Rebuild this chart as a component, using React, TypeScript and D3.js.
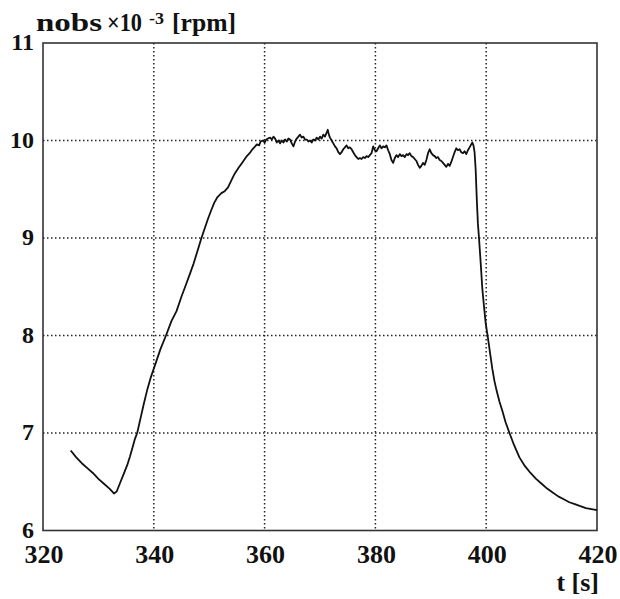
import React from "react";
import * as d3 from "d3";

const xTicks = [320, 340, 360, 380, 400, 420];
const yTicks = [6, 7, 8, 9, 10, 11];

const timeS = [
  325.0, 326.0, 327.0, 328.0, 329.0, 330.0, 331.0, 332.0, 332.8, 333.3, 334.0, 334.5, 335.2, 335.7, 336.2, 336.6,
  337.0, 337.6, 338.2, 338.8, 339.4, 340.0, 340.6, 341.2, 342.2, 343.2, 344.1, 345.0, 345.8, 346.5, 347.2, 347.9,
  348.6, 349.2, 349.8, 350.4, 350.9, 351.5, 352.2, 352.8, 353.4, 354.0, 354.6, 355.3, 355.8, 356.3, 356.8, 357.3,
  357.8, 358.3, 358.6, 359.0, 359.3, 359.7, 360.0, 360.3, 360.6, 361.0, 361.3, 361.6, 361.9, 362.2, 362.5, 362.8,
  363.1, 363.4, 363.7, 364.0, 364.3, 364.6, 364.9, 365.2, 365.5, 365.8, 366.1, 366.4, 366.7, 367.0, 367.3, 367.6,
  367.9, 368.2, 368.5, 368.8, 369.1, 369.4, 369.7, 370.0, 370.3, 370.6, 370.9, 371.2, 371.4, 371.6, 371.8, 372.1,
  372.4, 372.7, 373.0, 373.3, 373.6, 373.9, 374.2, 374.5, 374.8, 375.1, 375.4, 375.7, 376.0, 376.3, 376.6, 376.9,
  377.2, 377.5, 377.8, 378.1, 378.4, 378.7, 379.0, 379.3, 379.6, 379.9, 380.2, 380.5, 380.8, 381.1, 381.4, 381.7,
  382.0, 382.3, 382.6, 382.9, 383.2, 383.5, 383.8, 384.1, 384.4, 384.7, 385.0, 385.3, 385.6, 385.9, 386.2, 386.5,
  386.8, 387.1, 387.4, 387.7, 388.0, 388.3, 388.6, 388.9, 389.2, 389.5, 389.8, 390.1, 390.4, 390.7, 391.0, 391.3,
  391.6, 391.9, 392.2, 392.5, 392.8, 393.1, 393.4, 393.7, 394.0, 394.3, 394.6, 394.9, 395.2, 395.5, 395.8, 396.1,
  396.4, 396.7, 397.0, 397.3, 397.5, 397.7, 397.9, 398.1, 398.3, 398.5, 398.7, 399.0, 399.3, 399.6, 399.9, 400.3,
  400.7, 401.1, 401.5, 401.9, 402.4, 402.9, 403.5, 404.2, 405.0, 406.0, 407.0, 408.0, 409.0, 410.0, 411.0, 412.0,
  413.0, 414.0, 415.0, 416.0, 417.0, 418.0, 419.0, 420.0,
];

const nobs = [
  6.82, 6.75, 6.69, 6.64, 6.59, 6.53, 6.48, 6.43, 6.38, 6.40, 6.50, 6.57, 6.67, 6.76, 6.86, 6.94,
  7.00, 7.15, 7.30, 7.44, 7.56, 7.66, 7.76, 7.86, 8.00, 8.15, 8.25, 8.40, 8.52, 8.63, 8.74, 8.87,
  9.00, 9.10, 9.20, 9.29, 9.36, 9.42, 9.46, 9.48, 9.52, 9.59, 9.66, 9.72, 9.76, 9.80, 9.84, 9.87,
  9.91, 9.94, 9.96, 9.95, 9.99, 10.00, 9.98, 10.01, 10.02, 10.03, 10.01, 10.04, 10.02, 9.98, 10.00, 9.97,
  10.00, 9.98, 10.01, 9.99, 10.02, 10.01, 9.97, 9.94, 9.99, 10.02, 10.04, 10.06, 10.03, 10.04, 10.01, 10.01,
  9.99, 10.00, 9.98, 10.01, 10.00, 10.03, 10.01, 10.04, 10.02, 10.06, 10.04, 10.08, 10.11, 10.06, 10.03, 10.00,
  9.97, 9.94, 9.92, 9.88, 9.86, 9.88, 9.91, 9.93, 9.95, 9.92, 9.93, 9.91, 9.88, 9.85, 9.83, 9.81,
  9.82, 9.81, 9.83, 9.82, 9.84, 9.83, 9.85, 9.87, 9.94, 9.90, 9.89, 9.92, 9.95, 9.92, 9.94, 9.93,
  9.95, 9.90, 9.86, 9.80, 9.77, 9.82, 9.85, 9.83, 9.86, 9.84, 9.85, 9.83, 9.86, 9.85, 9.87, 9.84,
  9.83, 9.81, 9.79, 9.75, 9.72, 9.74, 9.77, 9.75, 9.80, 9.87, 9.91, 9.87, 9.85, 9.84, 9.82, 9.83,
  9.80, 9.79, 9.77, 9.75, 9.73, 9.76, 9.74, 9.78, 9.83, 9.88, 9.92, 9.90, 9.91, 9.88, 9.87, 9.89,
  9.86, 9.90, 9.93, 9.96, 9.98, 9.95, 9.88, 9.70, 9.40, 9.15, 9.00, 8.75, 8.48, 8.30, 8.13, 7.98,
  7.82, 7.66, 7.53, 7.43, 7.32, 7.23, 7.11, 7.00, 6.88, 6.75, 6.66, 6.59, 6.53, 6.48, 6.43, 6.39,
  6.35, 6.32, 6.29, 6.27, 6.25, 6.23, 6.22, 6.21,
];

const W = 620;
const H = 599;
const margin = { left: 43, right: 23, top: 43, bottom: 68.5 };

export default function App() {
  const x = d3.scaleLinear().domain([320, 420]).range([margin.left, W - margin.right]);
  const y = d3.scaleLinear().domain([6, 11]).range([H - margin.bottom, margin.top]);
  const pts = timeS.map((t, i) => [t, nobs[i]] as [number, number]);
  const line = d3
    .line<[number, number]>()
    .x((d) => x(d[0]))
    .y((d) => y(d[1]));
  const font = "'Liberation Serif', 'Times New Roman', serif";
  const x0 = x(320), x1 = x(420), y0 = y(6), y1 = y(11);
  const tProps = { fontFamily: font, fontWeight: "bold" as const, fill: "#111" };
  return (
    <svg
      width={W}
      height={H}
      style={{ position: "absolute", left: 0, top: 0, background: "#fff" }}
    >
      <rect x={0} y={0} width={W} height={H} fill="#fff" />
      {xTicks.slice(1, -1).map((t) => (
        <line key={"gx" + t} x1={x(t)} x2={x(t)} y1={y1} y2={y0} stroke="#222" strokeWidth={1.5} strokeDasharray="1.5,2.5" />
      ))}
      {yTicks.slice(1, -1).map((t) => (
        <line key={"gy" + t} x1={x0} x2={x1} y1={y(t)} y2={y(t)} stroke="#222" strokeWidth={1.5} strokeDasharray="1.5,2.5" />
      ))}
      <rect x={x0} y={y1} width={x1 - x0} height={y0 - y1} fill="none" stroke="#333" strokeWidth={1.6} />
      <path d={line(pts) || ""} fill="none" stroke="#111" strokeWidth={1.8} strokeLinejoin="round" />
      {xTicks.map((t) => (
        <text key={"tx" + t} x={x(t) + 1} y={563} textAnchor="middle" fontSize={26} {...tProps}>
          {t}
        </text>
      ))}
      {yTicks.map((t) => (
        <text key={"ty" + t} x={34} y={y(t) + 7} textAnchor="end" fontSize={24} {...tProps}>
          {t}
        </text>
      ))}
      <text x={36} y={31} fontSize={26} textLength={66} lengthAdjust="spacingAndGlyphs" {...tProps}>nobs</text>
      <text x={107} y={31} fontSize={26} textLength={35} lengthAdjust="spacingAndGlyphs" {...tProps}>×10</text>
      <text x={149} y={24} fontSize={16} textLength={15} lengthAdjust="spacingAndGlyphs" {...tProps}>-3</text>
      <text x={172} y={31} fontSize={26} textLength={64} lengthAdjust="spacingAndGlyphs" {...tProps}>[rpm]</text>
      <text x={599} y={591} textAnchor="end" fontSize={26} {...tProps}>
        t [s]
      </text>
    </svg>
  );
}
